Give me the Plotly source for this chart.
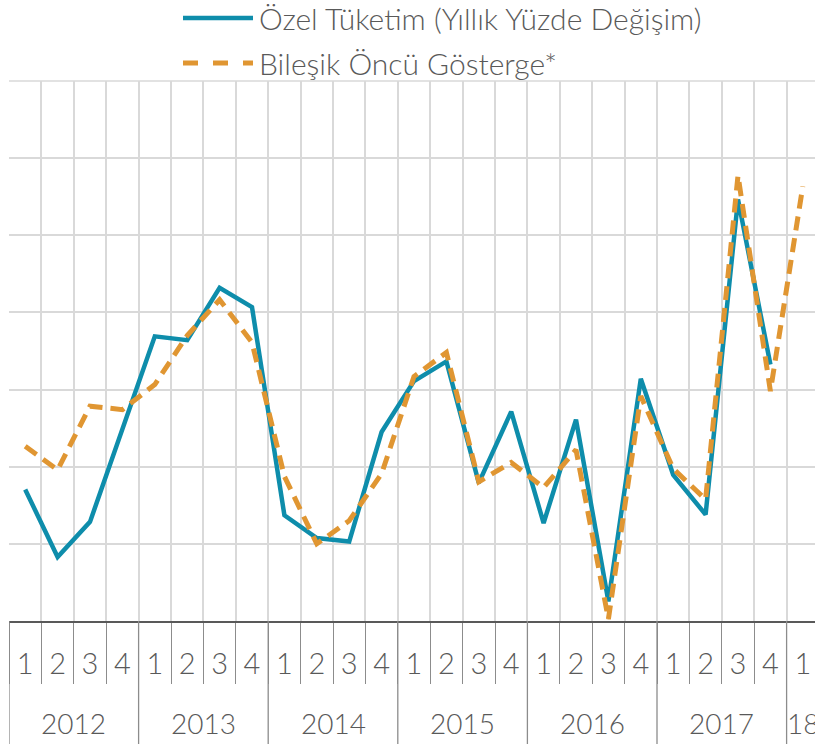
import plotly.graph_objects as go

quarters = ["1", "2", "3", "4"] * 6 + ["1"]
years = ["2012", "2013", "2014", "2015", "2016", "2017", "18"]

ozel_tuketim = [-0.59, -2.34, -1.43, 0.94, 3.38, 3.28, 4.64, 4.14,
                -1.26, -1.85, -1.94, 0.90, 2.22, 2.73, -0.42, 1.43,
                -1.46, 1.22, -3.49, 2.28, -0.21, -1.24, 6.93, 2.65, None]
oncu_gosterge = [0.53, -0.08, 1.57, 1.48, 2.13, 3.40, 4.33, 3.22,
                 -0.25, -2.00, -1.40, -0.18, 2.34, 2.96, -0.39, 0.11,
                 -0.54, 0.44, -3.95, 1.83, -0.05, -0.85, 7.55, 1.96, 7.27]

names = ["Özel Tüketim (Yıllık Yüzde Değişim)", "Bileşik Öncü Gösterge*"]
BLUE = "#0E8DAB"
ORANGE = "#E09632"
TXT = "#595959"
FONT = "Lato"

W, H = 815, 744
ML, MT, MB, MR = 9, 81, 123, 0
PW = W - ML - MR
PH = H - MT - MB

x = list(range(len(quarters)))

fig = go.Figure()
fig.add_trace(go.Scatter(x=x, y=ozel_tuketim, mode="lines", name=names[0],
                         line=dict(color=BLUE, width=4.5), showlegend=False))
fig.add_trace(go.Scatter(x=x, y=oncu_gosterge, mode="lines", name=names[1],
                         line=dict(color=ORANGE, width=5, dash="14px,8px"),
                         showlegend=False))

boundaries = [k - 0.5 for k in range(len(quarters))]

fig.update_layout(
    width=W, height=H,
    margin=dict(l=ML, r=MR, t=MT, b=MB),
    paper_bgcolor="white", plot_bgcolor="white",
    font=dict(family=FONT, color=TXT, size=28, weight=300),
    xaxis=dict(
        range=[-0.5, PW / 32.4 - 0.5], tickmode="array", tickvals=x, ticktext=quarters,
        ticks="", showgrid=False, zeroline=False,
        showline=True, linecolor="#595959", linewidth=1.5,
        tickfont=dict(family=FONT, size=29, color=TXT, weight=300),
        ticklabelstandoff=16,
        minor=dict(tickmode="array", tickvals=boundaries, ticks="outside",
                   ticklen=61, tickcolor="#8c8c8c", tickwidth=1.3,
                   showgrid=True, gridcolor="#d9d9d9", gridwidth=1.5),
    ),
    yaxis=dict(
        range=[-4, 10], dtick=2, showticklabels=False, ticks="",
        showgrid=True, gridcolor="#d9d9d9", gridwidth=1.5, zeroline=False,
        showline=False,
    ),
)

# top border
fig.add_shape(type="line", xref="paper", yref="paper", x0=0, x1=1, y0=1, y1=1,
              line=dict(color="#d9d9d9", width=1.5))

# year separators
for j in range(len(years)):
    xb = 4 * j - 0.5
    fig.add_shape(type="line", xref="x", yref="paper", x0=xb, x1=xb, y0=0, y1=-0.25,
                  line=dict(color="#8c8c8c", width=1.3))

# year labels
for j, yr in enumerate(years):
    xc = 4 * j + 1.5 if j < 6 else 24
    fig.add_annotation(x=xc, xref="x", y=(MT + PH - 723) / PH, yref="paper", text=yr,
                       showarrow=False, yanchor="middle", xanchor="center",
                       font=dict(family=FONT, size=28, color=TXT, weight=300))

# custom legend
legend_rows = [(BLUE, "solid", 4.5, names[0], 18), (ORANGE, "dash", 5, names[1], 63)]
for color, dash, w, label, ypx in legend_rows:
    yp = 1 + (MT - ypx) / PH
    fig.add_shape(type="line", xref="paper", yref="paper",
                  x0=(183 - ML) / PW, x1=(253 - ML) / PW, y0=yp, y1=yp,
                  line=dict(color=color, width=w, dash=dash))
    fig.add_annotation(x=(257 - ML) / PW, xref="paper", y=yp, yref="paper",
                       text=label, showarrow=False, xanchor="left", yanchor="middle",
                       font=dict(family=FONT, size=30, color=TXT, weight=300))

fig.write_html("out.html", config={"displayModeBar": False},
               post_script="document.body.style.margin='0px';")
